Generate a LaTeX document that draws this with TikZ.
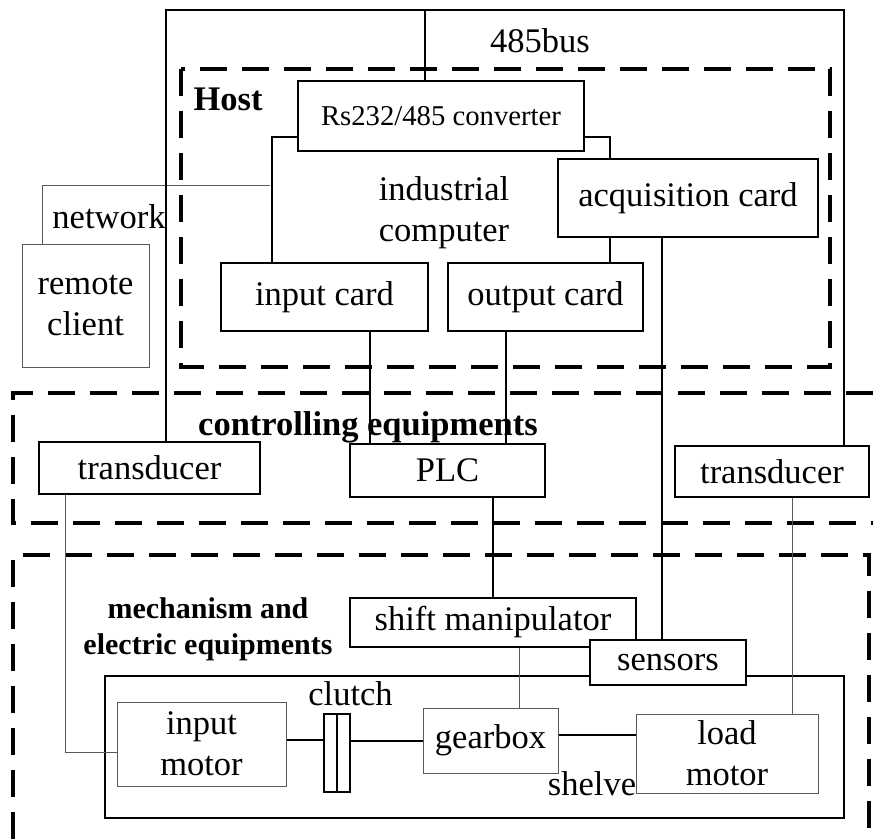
\documentclass[tikz,border=0pt]{standalone}
\usepackage{fontspec}
\setmainfont{Liberation Serif}
\begin{document}
\begin{tikzpicture}[x=1pt, y=-1pt,
    box/.style={draw, line width=2pt, fill=white, inner sep=0pt, align=center,
        font=\fontsize{34.5}{41}\selectfont},
    thinbox/.style={box, draw=black!65, line width=1pt},
    group/.style={line width=3.5pt, dash pattern=on 27pt off 15pt},
    wire/.style={line width=2pt},
    thinwire/.style={line width=1pt, draw=black!65},
    lbl/.style={inner sep=0pt, font=\fontsize{34.5}{41}\selectfont}]
    \useasboundingbox (0,0) rectangle (873,839);

    % Dashed groups
    \draw[group] (181,69) rectangle (830,367);
    \draw[group] (873,393) -- (13,393) -- (13,523) -- (873,523);
    \draw[group] (13,839) -- (13,555) -- (869,555) -- (869,839);

    % Host
    \node[lbl, anchor=base, font=\fontsize{34.5}{41}\selectfont\bfseries] (host) at (228,110) {Host};
    \node[box, minimum width=286pt, minimum height=70pt,
        font=\fontsize{28.7}{34}\selectfont] (conv) at (441,116) {Rs232/485 converter};
    \node[box, minimum width=260pt, minimum height=78pt] (acq) at (688,198) {acquisition card};
    \node[box, minimum width=207pt, minimum height=68pt] (incard) at (324.5,297) {input card};
    \node[box, minimum width=195pt, minimum height=68pt] (outcard) at (545.5,297) {output card};
    \node[lbl, align=center] (pc) at (444,213) {industrial\\computer};

    % Industrial computer frame
    \coordinate (pcL) at (272,137);
    \coordinate (pcR) at (610,137);
    \draw[wire] (incard.north -| pcL) -- (pcL) -- (pcL -| conv.west);
    \draw[wire] (conv.east |- pcR) -- (pcR) -- (pcR |- acq.north);
    \draw[wire] (acq.south -| pcR) -- (pcR |- outcard.north);

    % Remote client
    \node[thinbox, minimum width=127pt, minimum height=123pt] (remote) at (85.5,305.5) {remote\\client};
    \node[lbl, anchor=base] (net) at (109,228) {network};
    \coordinate (netC) at (42,185);
    \coordinate (netE) at (270,185);
    \draw[thinwire] (remote.north -| netC) -- (netC) -- (netE);

    % Controlling equipments
    \node[lbl, anchor=base, font=\fontsize{34.5}{41}\selectfont\bfseries] (ctrl) at (368,435) {controlling equipments};
    \node[box, minimum width=221pt, minimum height=52pt] (trL) at (149.5,468) {transducer};
    \node[box, minimum width=195pt, minimum height=53pt] (plc) at (447.5,470.5) {PLC};
    \node[box, minimum width=194pt, minimum height=51pt] (trR) at (772,471.5) {transducer};

    % 485bus
    \coordinate (busL) at (166,10);
    \coordinate (busC) at (425,10);
    \coordinate (busR) at (844,10);
    \node[lbl, anchor=base] (bus) at (540,52) {485bus};
    \draw[wire] (trL.north -| busL) -- (busL) -- (busR) -- (busR |- trR.north);
    \draw[wire] (busC) -- (busC |- conv.north);

    % Mechanism and electric equipments
    \node[lbl, align=center, font=\fontsize{30}{36}\selectfont\bfseries] (mech) at (208,629) {mechanism and\\electric equipments};
    \draw[wire] (105,676) rectangle (844,818);
    \node[lbl, anchor=base] (shelve) at (592,795) {shelve};
    \node[box, minimum width=286pt, minimum height=49pt] (shift) at (493,622.5) {shift manipulator};
    \node[box, minimum width=156pt, minimum height=45pt] (sensors) at (668,662.5) {sensors};
    \node[thinbox, minimum width=169pt, minimum height=84pt] (inmotor) at (201.5,744) {input\\motor};
    \node[box, minimum width=13pt, minimum height=78pt] (clutchA) at (330.5,753) {};
    \node[box, minimum width=13pt, minimum height=78pt] (clutchB) at (343.5,753) {};
    \node[lbl, anchor=base] (clutch) at (350.5,705) {clutch};
    \node[thinbox, minimum width=135pt, minimum height=65pt] (gearbox) at (490.5,740.5) {gearbox};
    \node[thinbox, minimum width=182pt, minimum height=79pt] (load) at (727,753.5) {load\\motor};

    % Signal lines
    \coordinate (inX) at (370,0);
    \coordinate (outX) at (506,0);
    \coordinate (acqX) at (662,0);
    \coordinate (plcX) at (493,0);
    \coordinate (shiftX) at (519,0);
    \coordinate (trLdrop) at (65,752);
    \coordinate (trRX) at (792,0);
    \draw[wire] (incard.south -| inX) -- (plc.north -| inX);
    \draw[wire] (outcard.south -| outX) -- (plc.north -| outX);
    \draw[wire] (acq.south -| acqX) -- (sensors.north -| acqX);
    \draw[wire] (plc.south -| plcX) -- (shift.north -| plcX);
    \draw[thinwire] (shift.south -| shiftX) -- (gearbox.north -| shiftX);
    \draw[thinwire] (trL.south -| trLdrop) -- (trLdrop) -- (trLdrop -| inmotor.west);
    \draw[thinwire] (trR.south -| trRX) -- (load.north -| trRX);

    % Drive shaft
    \coordinate (shaft) at (0,740);
    \draw[wire] (inmotor.east |- shaft) -- (clutchA.west |- shaft);
    \draw[wire] (clutchB.east |- gearbox.west) -- (gearbox.west);
    \draw[wire] (gearbox.east |- 0,735) -- (load.west |- 0,735);
\end{tikzpicture}
\end{document}
